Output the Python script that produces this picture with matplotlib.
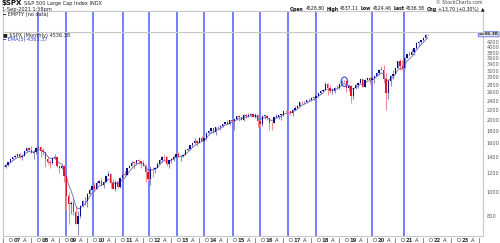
import numpy as np
import pandas as pd
import matplotlib
matplotlib.use("Agg")
import matplotlib.pyplot as plt
import matplotlib.transforms as mtransforms
from matplotlib.patches import Ellipse

# ---------------- data (monthly $SPX, Jul 2006 .. Sep 2021) ----------------
start_month = "2006-07"
opens = [
    1270, 1278, 1304, 1336, 1378, 1401,
    1418, 1438, 1407, 1421, 1482, 1531, 1503, 1455, 1474, 1527, 1549, 1481,
    1468, 1379, 1331, 1323, 1386, 1400, 1280, 1267, 1283, 1165, 969, 896,
    903, 826, 735, 798, 873, 919, 919, 987, 1021, 1057, 1036, 1096,
    1115, 1074, 1104, 1169, 1187, 1089, 1031, 1102, 1049, 1141, 1183, 1181,
    1258, 1286, 1327, 1326, 1364, 1345, 1321, 1292, 1219, 1131, 1253, 1247,
    1258, 1312, 1366, 1408, 1398, 1310, 1362, 1379, 1407, 1441, 1412, 1416,
    1426, 1498, 1515, 1569, 1598, 1631, 1606, 1686, 1633, 1682, 1757, 1806,
    1848, 1783, 1859, 1872, 1884, 1924, 1960, 1931, 2003, 1972, 2018, 2068,
    2059, 1995, 2105, 2068, 2086, 2107, 2063, 2104, 1972, 1920, 2079, 2080,
    2044, 1940, 1932, 2060, 2065, 2097, 2099, 2174, 2171, 2168, 2126, 2199,
    2239, 2279, 2364, 2363, 2384, 2412, 2423, 2470, 2472, 2519, 2575, 2648,
    2674, 2824, 2714, 2641, 2648, 2705, 2718, 2816, 2902, 2914, 2712, 2760,
    2507, 2704, 2784, 2834, 2946, 2752, 2942, 2980, 2926, 2977, 3038, 3141,
    3231, 3226, 2954, 2585, 2912, 3044, 3100, 3271, 3500, 3363, 3270, 3622,
    3756, 3714, 3811, 3973, 4181, 4204, 4298, 4395, 4529,
]
highs = [
    1280, 1306, 1340, 1390, 1407, 1432,
    1441, 1461, 1438, 1498, 1535, 1540, 1556, 1503, 1539, 1576, 1552, 1524,
    1471, 1396, 1359, 1397, 1440, 1404, 1292, 1314, 1303, 1167, 1007, 919,
    944, 876, 832, 888, 930, 957, 996, 1040, 1080, 1102, 1111, 1130,
    1150, 1113, 1181, 1220, 1206, 1131, 1121, 1129, 1148, 1196, 1227, 1263,
    1303, 1345, 1333, 1364, 1371, 1346, 1357, 1307, 1229, 1292, 1278, 1269,
    1334, 1378, 1419, 1422, 1415, 1364, 1392, 1426, 1475, 1470, 1434, 1448,
    1510, 1530, 1570, 1598, 1687, 1654, 1698, 1709, 1730, 1775, 1814, 1849,
    1851, 1868, 1884, 1897, 1924, 1968, 1992, 2006, 2019, 2018, 2076, 2094,
    2072, 2119, 2117, 2126, 2135, 2130, 2133, 2113, 2021, 2094, 2117, 2104,
    2044, 1963, 2073, 2111, 2100, 2120, 2178, 2194, 2188, 2169, 2214, 2278,
    2301, 2371, 2401, 2398, 2418, 2454, 2484, 2491, 2520, 2582, 2657, 2695,
    2873, 2836, 2801, 2718, 2742, 2791, 2848, 2917, 2941, 2940, 2815, 2800,
    2708, 2813, 2860, 2949, 2954, 2964, 3028, 3013, 3022, 3050, 3154, 3248,
    3338, 3394, 3136, 2954, 3068, 3233, 3280, 3514, 3588, 3550, 3646, 3760,
    3870, 3950, 3994, 4218, 4238, 4302, 4430, 4538, 4537,
]
lows = [
    1224, 1265, 1291, 1331, 1360, 1385,
    1403, 1389, 1364, 1416, 1476, 1484, 1454, 1371, 1439, 1490, 1407, 1435,
    1270, 1317, 1257, 1312, 1373, 1272, 1200, 1248, 1107, 840, 741, 815,
    805, 735, 667, 784, 866, 888, 869, 979, 992, 1020, 1029, 1085,
    1071, 1045, 1102, 1170, 1040, 1029, 1011, 1040, 1040, 1132, 1174, 1180,
    1257, 1286, 1250, 1295, 1311, 1259, 1283, 1101, 1114, 1075, 1158, 1202,
    1258, 1312, 1340, 1358, 1292, 1267, 1325, 1354, 1397, 1403, 1343, 1398,
    1426, 1485, 1502, 1536, 1581, 1560, 1605, 1627, 1633, 1646, 1747, 1768,
    1770, 1737, 1834, 1814, 1863, 1915, 1931, 1905, 1964, 1821, 2001, 1972,
    1988, 1981, 2039, 2048, 2067, 2056, 2045, 1867, 1872, 1893, 2019, 1993,
    1812, 1810, 1932, 2034, 2025, 1992, 2074, 2148, 2120, 2097, 2084, 2188,
    2233, 2267, 2322, 2328, 2353, 2405, 2407, 2417, 2447, 2519, 2557, 2605,
    2674, 2533, 2586, 2553, 2594, 2691, 2699, 2796, 2864, 2603, 2631, 2347,
    2444, 2681, 2722, 2834, 2751, 2729, 2942, 2822, 2892, 2856, 3038, 3070,
    3214, 2855, 2192, 2447, 2766, 2966, 3101, 3271, 3209, 3233, 3270, 3622,
    3695, 3714, 3723, 3955, 4057, 4165, 4234, 4368, 4524,
]
closes = [
    1277, 1304, 1336, 1378, 1401, 1418,
    1438, 1407, 1421, 1482, 1531, 1503, 1455, 1474, 1527, 1549, 1481, 1468,
    1379, 1331, 1323, 1386, 1400, 1280, 1267, 1283, 1165, 969, 896, 903,
    826, 735, 798, 873, 919, 919, 987, 1021, 1057, 1036, 1096, 1115,
    1074, 1104, 1169, 1187, 1089, 1031, 1102, 1049, 1141, 1183, 1181, 1258,
    1286, 1327, 1326, 1364, 1345, 1321, 1292, 1219, 1131, 1253, 1247, 1258,
    1312, 1366, 1408, 1398, 1310, 1362, 1379, 1407, 1441, 1412, 1416, 1426,
    1498, 1515, 1569, 1598, 1631, 1606, 1686, 1633, 1682, 1757, 1806, 1848,
    1783, 1859, 1872, 1884, 1924, 1960, 1931, 2003, 1972, 2018, 2068, 2059,
    1995, 2105, 2068, 2086, 2107, 2063, 2104, 1972, 1920, 2079, 2080, 2044,
    1940, 1932, 2060, 2065, 2097, 2099, 2174, 2171, 2168, 2126, 2199, 2239,
    2279, 2364, 2363, 2384, 2412, 2423, 2470, 2472, 2519, 2575, 2648, 2674,
    2824, 2714, 2641, 2648, 2705, 2718, 2816, 2902, 2914, 2712, 2760, 2507,
    2704, 2784, 2834, 2946, 2752, 2942, 2980, 2926, 2977, 3038, 3141, 3231,
    3226, 2954, 2585, 2912, 3044, 3100, 3271, 3500, 3363, 3270, 3622, 3756,
    3714, 3811, 3973, 4181, 4204, 4298, 4395, 4523, 4536.38,
]
# annotation lines (fractional years) and highlighted swing high
marker_years = [2007.74, 2008.74, 2009.70, 2010.78, 2011.72, 2012.70, 2013.67,
                2014.70, 2015.67, 2016.68, 2017.66, 2019.66, 2020.82]
circle_year, circle_price = 2018.68, 2880
y_ticks = [800, 1000, 1200, 1400, 1600, 1800, 2000, 2200, 2400, 2600, 2800,
           3000, 3200, 3400, 3600, 3800, 4000, 4200]
month_letters = {1: "J", 4: "A", 7: "J", 10: "O"}
header_parts = [("Open", True), ("4528.80", False), ("High", True),
                ("4537.11", False), ("Low", True), ("4524.46", False),
                ("Last", True), ("4536.38", False), ("Chg", True),
                ("+13.70 (+0.30%)", False), ("▲", False)]
last_price = 4536.38

# ---------------- derived positions ----------------
n = len(closes)
dates = pd.date_range(start_month, periods=n, freq="MS")
t = dates.year + (dates.month - 1) / 12.0
o = np.array(opens, float); h = np.array(highs, float)
l = np.array(lows, float); c = np.array(closes, float)
prev = np.concatenate([[o[0]], c[:-1]])
up = c >= prev
ema = pd.Series(c).ewm(span=5, adjust=False).mean().values

W, H = 500, 243
plt.rcParams["font.family"] = ["DejaVu Sans"]
fig = plt.figure(figsize=(W / 100, H / 100), dpi=100)

def fx(px):
    return px / W

def fy(py):
    return 1 - py / H

x_left, x_right = 3, 483
ax = fig.add_axes([fx(x_left), fy(236), fx(x_right - x_left), (236 - 32) / H])
axi = fig.add_axes([fx(x_left), fy(32), fx(x_right - x_left), (32 - 11) / H])

xmin, xmax = 2006.49, 2023.63
for a in (ax, axi):
    a.set_xlim(xmin, xmax)
    for s in a.spines.values():
        s.set_color("#c8c8c8")
        s.set_linewidth(0.8)
    for my in marker_years:
        a.axvline(my, color="#4d5cff", lw=1.3, alpha=0.85, zorder=1)

ax.set_yscale("log")
ax.set_ylim(658, 4637)

# candles
up_col, dn_col = "#0b0b8c", "#e3122c"
up_wick, dn_wick = "#8e8ec0", "#f08a98"
cols = np.where(up, up_col, dn_col)
wcols = np.where(up, up_wick, dn_wick)
ax.vlines(t, l, h, colors=wcols, lw=0.8, zorder=2)
bottoms = np.minimum(o, c)
heights = np.maximum(np.abs(c - o), bottoms * 0.004)
ax.bar(t, heights, bottom=bottoms, width=0.055, color=cols, linewidth=0, zorder=3)
ax.plot(t, ema, color="#6a6ab8", lw=0.6, zorder=2.5)

# circle around the 2018 high
trans = fig.dpi_scale_trans + mtransforms.ScaledTranslation(circle_year, circle_price, ax.transData)
ax.add_patch(Ellipse((0, 0), 0.065, 0.095, transform=trans, fill=False,
                     edgecolor="#3a4de0", lw=0.8, zorder=4))

# y axis on right
ax.yaxis.tick_right()
ax.set_yticks(y_ticks)
ax.set_yticklabels([str(v) for v in y_ticks])
ax.yaxis.set_minor_locator(matplotlib.ticker.NullLocator())
ax.tick_params(axis="y", which="both", length=0, pad=2.5, labelsize=3.6, labelcolor="#555555")

# x ticks: quarterly letters, year at January
qt = []
ql = []
for yy in range(2006, 2024):
    for mm in (1, 4, 7, 10):
        tv = yy + (mm - 1) / 12
        if xmin <= tv <= xmax:
            qt.append(tv)
            ql.append(f"{yy % 100:02d}" if mm == 1 else month_letters[mm])
ax.set_xticks(qt)
ax.set_xticklabels(ql)
ax.xaxis.set_minor_locator(matplotlib.ticker.NullLocator())
ax.tick_params(axis="x", length=0, pad=1.5, labelsize=3.8, labelcolor="#333333")
for lab in ax.get_xticklabels():
    if lab.get_text().isdigit():
        lab.set_fontweight("bold")

axi.set_xticks([]); axi.set_yticks([])

# last price box, right-aligned to the figure edge
blend = mtransforms.blended_transform_factory(fig.transFigure, ax.transData)
ax.text(fx(498.5), last_price, f"{last_price:.2f}", transform=blend,
        va="center", ha="right", fontsize=3.2, fontweight="bold", color="#222222",
        clip_on=False,
        bbox=dict(boxstyle="round,pad=0.12", fc="#e8e8ee", ec="#3a4de0", lw=0.5))

# header texts (figure pixel coords)
def ftext(px, py, s, **kw):
    return fig.text(fx(px), fy(py), s, va="center", **kw)

ftext(2, 3.5, "$SPX", fontsize=5, fontweight="bold", color="#111111")
ftext(24, 3.5, "S&P 500 Large Cap Index INDX", fontsize=3.6, color="#222222")
ftext(2, 9.5, "1-Sep-2021 1:58pm", fontsize=3.6, color="#222222")
ftext(483, 3, "© StockCharts.com", fontsize=3.4, color="#444444", ha="right")

# header OHLC line: lay out pieces left to right from measured widths
renderer = fig.canvas.get_renderer()
objs = []
for s, b in header_parts:
    objs.append(ftext(0, 9, s, fontsize=3.3, fontweight="bold" if b else "normal",
                      color="#111111"))
widths = [tobj.get_window_extent(renderer).width for tobj in objs]
gap = 1.6
total = sum(widths) + gap * (len(widths) - 1)
cur = 484 - total
for tobj, w in zip(objs, widths):
    tobj.set_x(fx(cur))
    cur += w + gap

ftext(3, 14.5, "━ EMPTY (no data)", fontsize=3.6, color="#222222")
ftext(3, 35, "■ $SPX (Monthly) 4536.38", fontsize=3.6, color="#222222")
ftext(3, 40, "━ EMA(5) 4363.37", fontsize=3.6, color="#2a3ccc")

fig.savefig("out.png", dpi=100)
